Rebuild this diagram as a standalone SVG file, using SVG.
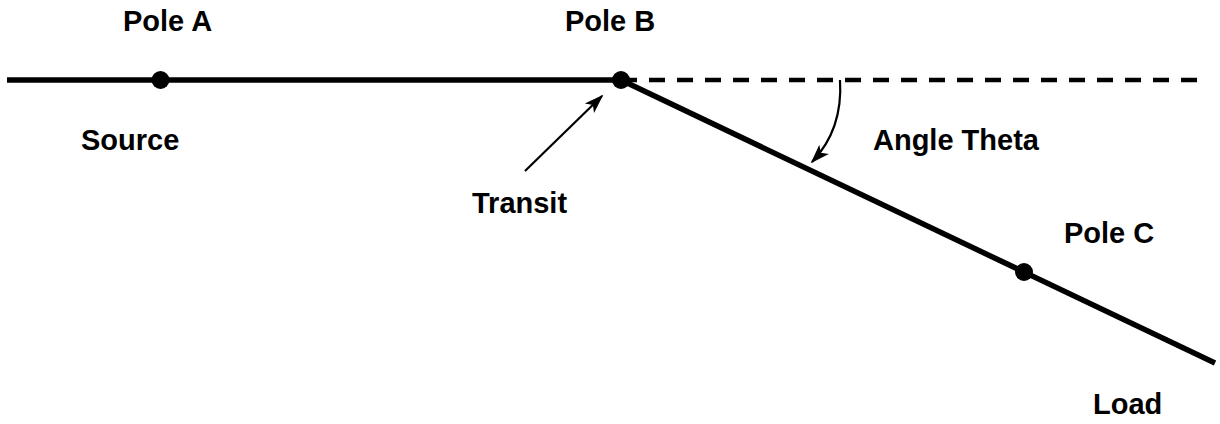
<svg xmlns="http://www.w3.org/2000/svg" width="1220" height="424" viewBox="0 0 1220 424">
  <style>
    .lbl { font-family: "Liberation Sans", Arial, sans-serif; font-weight: bold; font-size: 29px; fill: #000; }
    .wire { stroke: #000; stroke-width: 5.5; fill: none; }
    .dash { stroke: #000; stroke-width: 4.5; fill: none; stroke-dasharray: 16 12; }
    .ptr { stroke: #000; stroke-width: 2.2; fill: none; }
    .pole { fill: #000; }
  </style>
  <defs>
    <marker id="head" markerUnits="userSpaceOnUse" markerWidth="30" markerHeight="20" refX="0" refY="0" viewBox="-20 -10 30 20" orient="auto" overflow="visible">
      <path d="M-16,-5.5 L0,0 L-16,5.5 L-12,0 Z" fill="#000" stroke="#000" stroke-width="1.2" stroke-linejoin="miter"/>
    </marker>
  </defs>

  <g id="connectors">
    <line id="line-source-b" class="wire" x1="7" y1="80" x2="621" y2="80"/>
    <line id="line-b-ref" class="dash" x1="621" y1="80" x2="1197" y2="80"/>
    <line id="line-b-load" class="wire" x1="621" y1="80" x2="1215" y2="363"/>
    <line id="arrow-transit" class="ptr" x1="525" y1="171" x2="602" y2="96" marker-end="url(#head)"/>
    <path id="arrow-angle" class="ptr" d="M840,80 C842,112 833,140 812,162" marker-end="url(#head)"/>
  </g>

  <g id="pole-a">
    <circle class="pole" cx="160.5" cy="80" r="9"/>
    <text class="lbl" x="123" y="31">Pole A</text>
  </g>
  <g id="pole-b">
    <circle class="pole" cx="621" cy="80" r="9"/>
    <text class="lbl" x="565" y="31">Pole B</text>
  </g>
  <g id="pole-c">
    <circle class="pole" cx="1024" cy="272" r="9"/>
    <text class="lbl" x="1064" y="243">Pole C</text>
  </g>
  <g id="source">
    <text class="lbl" x="81" y="150">Source</text>
  </g>
  <g id="transit">
    <text class="lbl" x="472" y="213">Transit</text>
  </g>
  <g id="angle-theta">
    <text class="lbl" x="873" y="150">Angle Theta</text>
  </g>
  <g id="load">
    <text class="lbl" x="1093" y="414">Load</text>
  </g>
</svg>
